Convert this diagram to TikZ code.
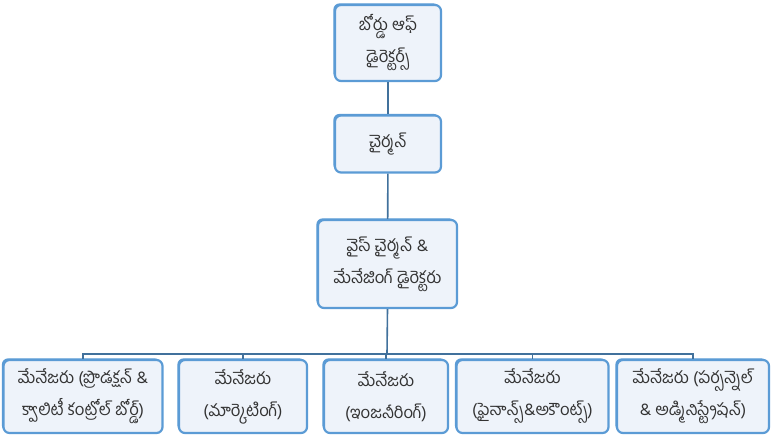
\documentclass[tikz,border=0pt]{standalone}
\usepackage{fontspec}
\newfontfamily\te[Script=Telugu]{Hind Guntur}
\usetikzlibrary{shadows}
\definecolor{boxline}{HTML}{5B9BD5}
\definecolor{boxfill}{HTML}{EEF3FA}
\definecolor{conn}{HTML}{41719C}
\definecolor{txt}{HTML}{333333}
\def\px{0.75pt}
\tikzset{
  box/.style={draw=boxline, line width=2.2*\px, rounded corners=6*\px, fill=boxfill,
    drop shadow={shadow xshift=-1.6*\px, shadow yshift=1.6*\px, fill=boxline, opacity=1},
    align=center, text=txt, inner sep=0pt,
    font=\te\fontsize{12.5}{24}\selectfont},
  link/.style={draw=conn, line width=1.6*\px}
}
\begin{document}
\begin{tikzpicture}[x=0.75pt,y=-0.75pt]
\useasboundingbox (0,0) rectangle (771,437);
\node[box, minimum width=106*\px, minimum height=76*\px] (B1) at (388,43) {బోర్డు ఆఫ్\\డైరెక్టర్స్};
\node[box, minimum width=106*\px, minimum height=57*\px] (B2) at (388,144) {చైర్మన్};
\node[box, minimum width=139*\px, minimum height=88*\px] (B3) at (387.5,264) {వైస్ చైర్మన్ \&\\మేనేజింగ్ డైరెక్టరు};
\node[box, minimum width=159*\px, minimum height=73*\px] (B4) at (83,396.5) {మేనేజరు (ప్రొడక్షన్ \&\\క్వాలిటీ కంట్రోల్ బోర్డ్)};
\node[box, minimum width=128*\px, minimum height=73*\px] (B5) at (243,396.5) {మేనేజరు\\(మార్కెటింగ్)};
\node[box, minimum width=124*\px, minimum height=73*\px] (B6) at (386,396.5) {మేనేజరు\\(ఇంజనీరింగ్)};
\node[box, minimum width=152*\px, minimum height=73*\px] (B7) at (532.5,396.5) {మేనేజరు\\(ఫైనాన్స్\&అకౌంట్స్)};
\node[box, minimum width=152*\px, minimum height=73*\px] (B8) at (693,396.5) {మేనేజరు (పర్సన్నెల్\\\& అడ్మినిస్ట్రేషన్)};
\coordinate (bar) at (387,354);
\draw[link] (B1) -- (B2);
\draw[link] (B2) -- (B3);
\draw[link] (B3.south) -- (bar);
\draw[link] (B4.north) -- (B4.north |- bar) -- (B8.north |- bar) -- (B8.north);
\draw[link] (B5.north) -- (B5.north |- bar);
\draw[link] (B6.north) -- (B6.north |- bar);
\draw[link] (B7.north) -- (B7.north |- bar);
\end{tikzpicture}
\end{document}
